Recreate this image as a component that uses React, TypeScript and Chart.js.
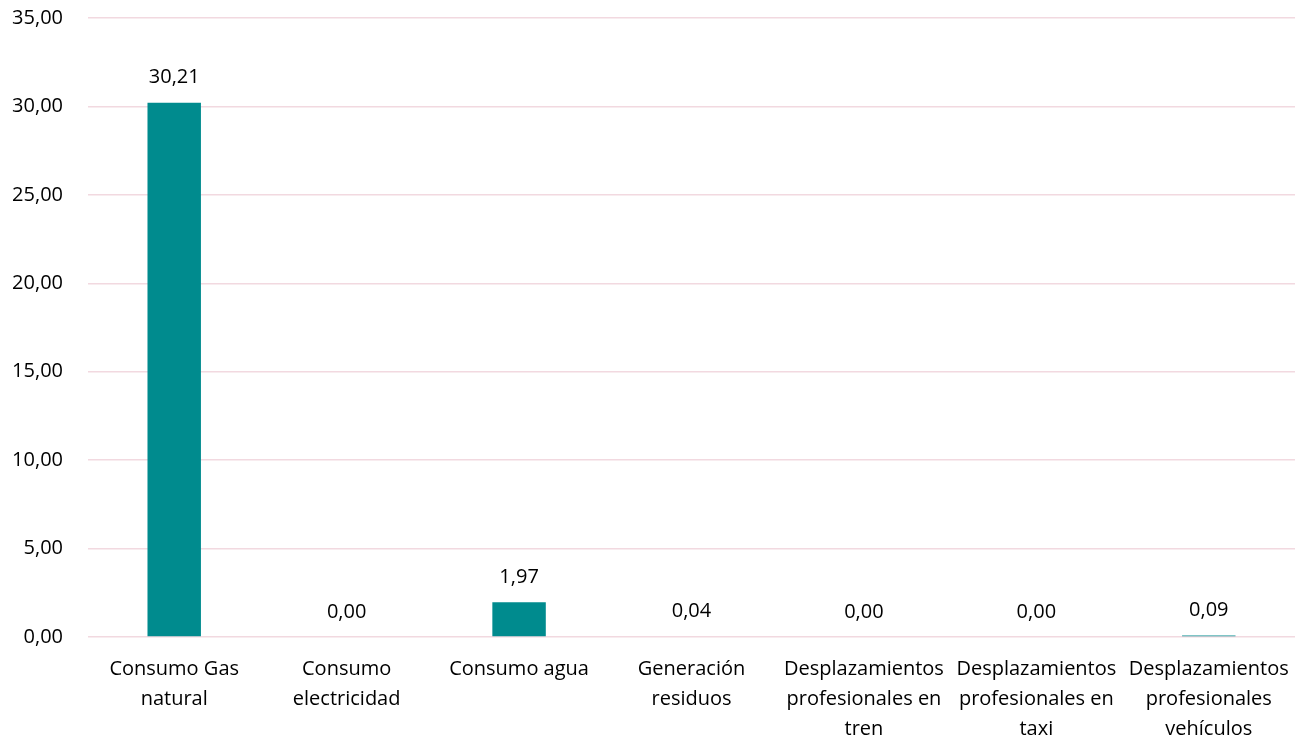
import React, { useEffect, useRef } from "react";
import { Chart, registerables } from "chart.js";

Chart.register(...registerables);

const categories: string[][] = [
  ["Consumo Gas", "natural"],
  ["Consumo", "electricidad"],
  ["Consumo agua"],
  ["Generación", "residuos"],
  ["Desplazamientos", "profesionales en", "tren"],
  ["Desplazamientos", "profesionales en", "taxi"],
  ["Desplazamientos", "profesionales", "vehículos"],
];
const values: number[] = [30.21, 0.0, 1.97, 0.04, 0.0, 0.0, 0.09];
const yTicks: number[] = [0, 5, 10, 15, 20, 25, 30, 35];

const fmt = (v: number) => v.toFixed(2).replace(".", ",");
const FONT = "'Open Sans', 'Liberation Sans', sans-serif";
const SIZE = 20;

const dataLabels = {
  id: "dataLabels",
  afterDatasetsDraw(chart: any) {
    const ctx = chart.ctx;
    const meta = chart.getDatasetMeta(0);
    ctx.save();
    ctx.fillStyle = "#000";
    ctx.font = `${SIZE}px ${FONT}`;
    ctx.textAlign = "center";
    ctx.textBaseline = "middle";
    meta.data.forEach((el: any, i: number) => {
      ctx.fillText(fmt(values[i]), el.x, el.y - 25);
    });
    ctx.restore();
  },
};

export default function App() {
  const ref = useRef<HTMLCanvasElement>(null);
  useEffect(() => {
    if (!ref.current) return;
    const chart = new Chart(ref.current, {
      type: "bar",
      data: {
        labels: categories,
        datasets: [
          {
            data: values,
            backgroundColor: "#008B8E",
            barPercentage: 0.62,
            categoryPercentage: 0.5,
          },
        ],
      },
      options: {
        animation: false,
        responsive: true,
        maintainAspectRatio: false,
        layout: { padding: { top: 0, right: 16, left: 0, bottom: 0 } },
        plugins: { legend: { display: false }, tooltip: { enabled: false } },
        scales: {
          x: {
            afterFit: (s: any) => {
              s.height = 105;
            },
            grid: { display: false, drawTicks: false },
            border: { display: false },
            ticks: {
              color: "#000",
              font: { family: FONT, size: SIZE, lineHeight: 30 / SIZE },
              padding: 17,
              maxRotation: 0,
              autoSkip: false,
            },
          },
          y: {
            min: 0,
            max: 35,
            afterBuildTicks: (axis: any) => {
              axis.ticks = yTicks.map((v) => ({ value: v }));
            },
            afterFit: (s: any) => {
              s.width = 88;
              s.paddingTop = 18;
              s.paddingBottom = 0;
            },
            grid: { color: "#F2D9E0", lineWidth: 1.5, drawTicks: false },
            border: { display: false },
            ticks: {
              color: "#000",
              font: { family: FONT, size: SIZE },
              padding: 25,
              callback: (v: any) => fmt(Number(v)),
            },
          },
        },
      },
      plugins: [dataLabels],
    });
    return () => chart.destroy();
  }, []);
  return (
    <div style={{ position: "absolute", left: 0, top: 0, width: 1311, height: 742 }}>
      <canvas ref={ref} />
    </div>
  );
}
